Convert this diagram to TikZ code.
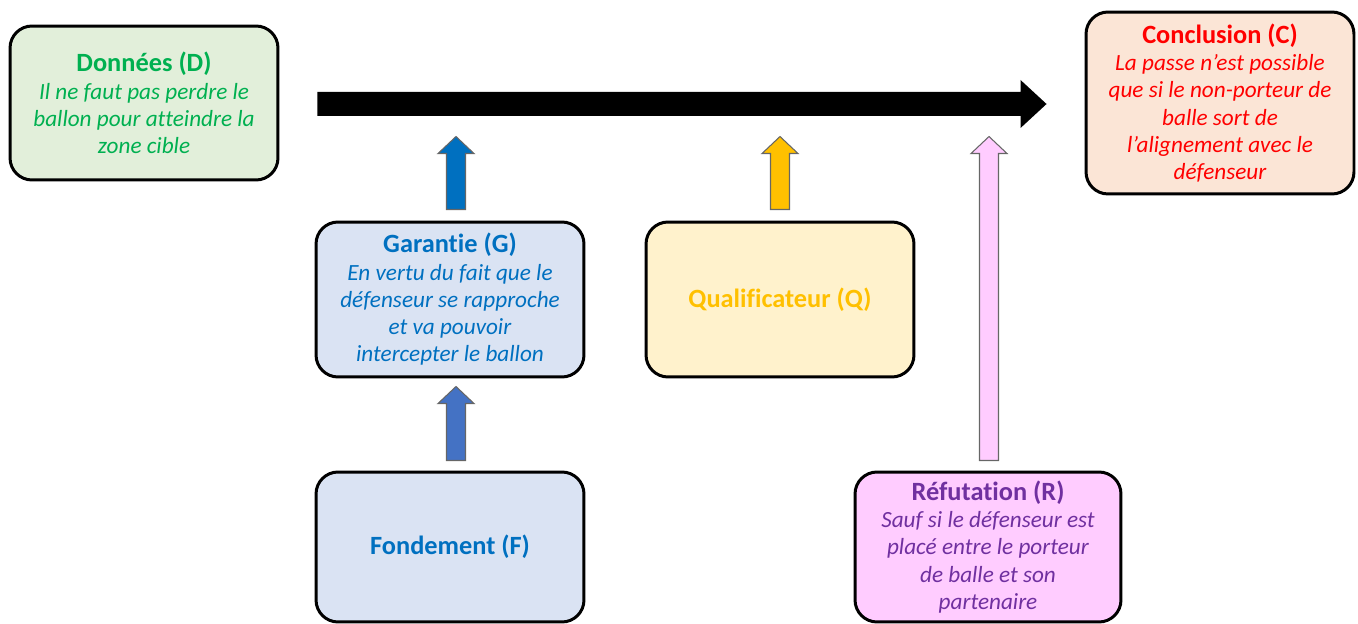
\documentclass[tikz,border=0pt]{standalone}
\usepackage{fontspec}
\setmainfont{Carlito}[Ligatures=NoCommon]
\usetikzlibrary{calc}
\definecolor{dgreen}{HTML}{00B050}
\definecolor{dgreenfill}{HTML}{E2EFDA}
\definecolor{cred}{HTML}{FF0000}
\definecolor{credfill}{HTML}{FBE5D6}
\definecolor{gblue}{HTML}{0070C0}
\definecolor{gbluefill}{HTML}{DAE3F3}
\definecolor{fblue}{HTML}{4472C4}
\definecolor{qyellow}{HTML}{FFC000}
\definecolor{qyellowfill}{HTML}{FFF2CC}
\definecolor{rpurple}{HTML}{7030A0}
\definecolor{rpinkfill}{HTML}{FFCCFF}
\tikzset{
  argbox/.style={draw=black, line width=1.7pt, rounded corners=0.44cm, align=center,
    minimum width=5.36cm, inner sep=0pt, font=\fontsize{13.2}{15.5}\selectfont},
  uparrow/.style={draw=black!60, line width=0.6pt}
}
\newcommand\argtitle[1]{{\fontsize{15}{15.5}\selectfont\bfseries #1}}
\newcommand\blockup[3]{\path[#1] let \p1=(#2), \p2=(#3) in
  (\x1-0.19cm,\y1) -- (\x1-0.19cm,\y2-0.34cm) -- (\x1-0.36cm,\y2-0.34cm) -- (\x1,\y2)
  -- (\x1+0.36cm,\y2-0.34cm) -- (\x1+0.19cm,\y2-0.34cm) -- (\x1+0.19cm,\y1) -- cycle;}

\begin{document}
\begin{tikzpicture}[x=0.02cm, y=-0.02cm]
		%%%%% START %%%%%
		\useasboundingbox (0, 0) rectangle (1358, 624);
		
		\node[argbox, fill=dgreenfill, text=dgreen, minimum height=3.08cm] (D) at (144, 103)
		  {\argtitle{Données (D)}\\\textit{Il ne faut pas perdre le}\\\textit{ballon pour atteindre la}\\\textit{zone cible}};
		\node[argbox, fill=credfill, text=cred, minimum height=3.64cm] (C) at (1220, 103)
		  {\argtitle{Conclusion (C)}\\\textit{La passe n’est possible}\\\textit{que si le non-porteur de}\\\textit{balle sort de}\\\textit{l’alignement avec le}\\\textit{défenseur}};
		
		\node[argbox, fill=gbluefill, text=gblue, minimum height=3.1cm] (G) at (450, 299.5)
		  {\argtitle{Garantie (G)}\\\textit{En vertu du fait que le}\\\textit{défenseur se rapproche}\\\textit{et va pouvoir}\\\textit{intercepter le ballon}};
		\node[argbox, fill=qyellowfill, text=qyellow, minimum height=3.1cm] (Q) at (780, 299.5)
		  {\argtitle{Qualificateur (Q)}};
		
		\node[argbox, fill=gbluefill, text=gblue, minimum height=3cm] (F) at (450, 547)
		  {\argtitle{Fondement (F)}};
		\node[argbox, fill=rpinkfill, text=rpurple, minimum width=5.32cm, minimum height=3cm] (R) at (988, 547)
		  {\argtitle{Réfutation (R)}\\\textit{Sauf si le défenseur est}\\\textit{placé entre le porteur}\\\textit{de balle et son}\\\textit{partenaire}};
		
		% main arrow D -> C
		\coordinate (mainstart) at ($(D.east)+(38, 1)$);
		\coordinate (mainend) at ($(C.west |- mainstart)+(-38, 0)$);
		\fill[black] let \p1=(mainstart), \p2=(mainend) in
		  (\x1,\y1+0.24cm) -- (\x2-0.52cm,\y1+0.24cm) -- (\x2-0.52cm,\y1+0.48cm) -- (\x2,\y1)
		  -- (\x2-0.52cm,\y1-0.48cm) -- (\x2-0.52cm,\y1-0.24cm) -- (\x1,\y1-0.24cm) -- cycle;
		
		% arrows up to the main arrow
		\blockup{uparrow, fill=gblue}{$(G.north)+(6, -11)$}{$(G.north)+(6, -84)$}
		\blockup{uparrow, fill=qyellow}{$(Q.north)+(0, -11)$}{$(Q.north)+(0, -84)$}
		\blockup{uparrow, fill=fblue}{$(F.north)+(6, -10)$}{$(F.north)+(6, -84)$}
		\blockup{uparrow, fill=rpinkfill}{$(R.north)+(1, -10)$}{$(R.north)+(1, -334)$}
		
		%%%%% END %%%%%
	\end{tikzpicture}
\end{document}
